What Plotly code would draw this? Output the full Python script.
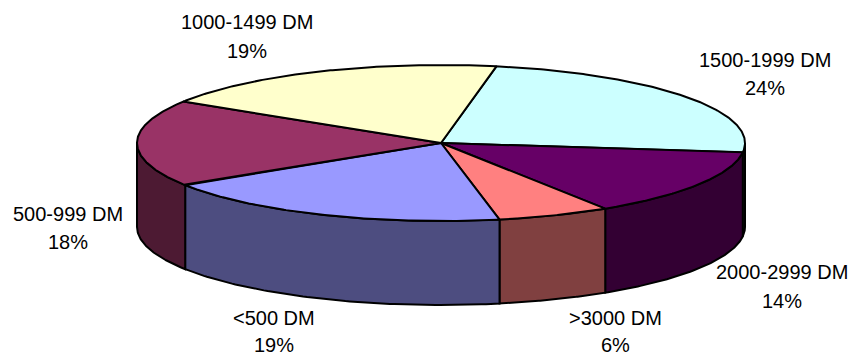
import numpy as np
import plotly.graph_objects as go

# Income bands and their shares (percent), clockwise from the top
bands = ["1500-1999 DM", "2000-2999 DM", ">3000 DM", "<500 DM", "500-999 DM", "1000-1499 DM"]
shares = [24, 14, 6, 19, 18, 19]

top_colors = ["#CCFFFF", "#660066", "#FF8080", "#9999FF", "#993366", "#FFFFCC"]
side_colors = ["#668080", "#330033", "#804040", "#4D4D80", "#4D1A33", "#80804D"]

# label anchors (centre of the two text lines) in page pixels
label_pos = {
    "1500-1999 DM": (765, 60, 88),
    "2000-2999 DM": (782, 272, 301),
    ">3000 DM": (615, 318, 345),
    "<500 DM": (274, 318, 345),
    "500-999 DM": (68, 214, 242),
    "1000-1499 DM": (247, 22, 51),
}

W, H = 853, 355
cx, cy = 441.0, 143.0      # centre of the top face
rx, ry = 304.0, 78.0       # ellipse radii of the top face
depth = 84.0               # cylinder height
start = 10.5               # start angle, degrees clockwise from 12 o'clock


def pt(theta_deg, drop=0.0):
    t = np.radians(theta_deg)
    return cx + rx * np.sin(t), cy - ry * np.cos(t) + drop


fig = go.Figure()

edges = np.cumsum([0] + shares) / sum(shares) * 360.0 + start
side_traces, top_traces = [], []
for i, band in enumerate(bands):
    a0, a1 = edges[i], edges[i + 1]
    # visible outer wall: front half of the cylinder (90..270 deg)
    for off in (0.0, 360.0):
        s0, s1 = max(a0, 90 + off), min(a1, 270 + off)
        if s1 > s0:
            th = np.linspace(s0, s1, 80)
            xs_t, ys_t = pt(th)
            xs_b, ys_b = pt(th[::-1], depth)
            xs = np.concatenate([xs_t, xs_b, xs_t[:1]])
            ys = np.concatenate([ys_t, ys_b, ys_t[:1]])
            side_traces.append(go.Scatter(
                x=xs, y=ys, mode="lines", fill="toself",
                fillcolor=side_colors[i],
                line=dict(color="black", width=2),
                hoverinfo="skip", showlegend=False))
    th = np.linspace(a0, a1, 160)
    xa, ya = pt(th)
    xs = np.concatenate([[cx], xa, [cx]])
    ys = np.concatenate([[cy], ya, [cy]])
    top_traces.append(go.Scatter(
        x=xs, y=ys, mode="lines", fill="toself",
        fillcolor=top_colors[i],
        line=dict(color="black", width=2),
        hoverinfo="skip", showlegend=False, name=band))

for t in side_traces + top_traces:
    fig.add_trace(t)

font = dict(family="Liberation Sans, Arial, sans-serif", size=20, color="black")
for band, share in zip(bands, shares):
    x, y1, y2 = label_pos[band]
    fig.add_annotation(x=x, y=y1, text=band, showarrow=False, font=font,
                       xref="x", yref="y", xanchor="center", yanchor="middle")
    fig.add_annotation(x=x, y=y2, text=f"{share}%", showarrow=False, font=font,
                       xref="x", yref="y", xanchor="center", yanchor="middle")

fig.update_layout(
    width=W, height=H,
    margin=dict(l=0, r=0, t=0, b=0),
    paper_bgcolor="white", plot_bgcolor="white",
    xaxis=dict(range=[0, W], visible=False, fixedrange=True),
    yaxis=dict(range=[H, 0], visible=False, fixedrange=True),
    showlegend=False,
)

fig.write_html("out.html")
